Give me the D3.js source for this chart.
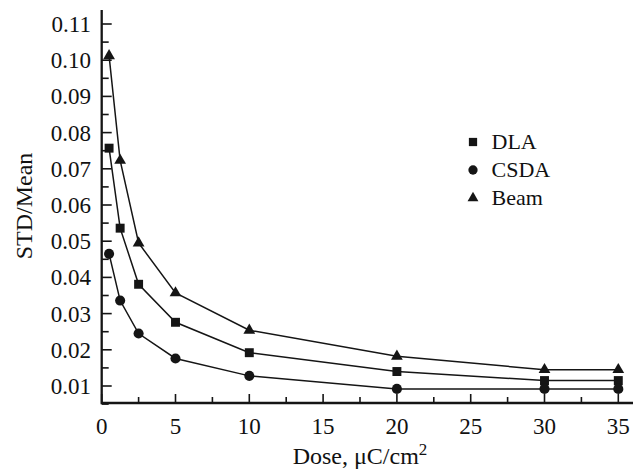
<!DOCTYPE html>
<html>
<head>
<meta charset="utf-8">
<script src="https://cdn.jsdelivr.net/npm/d3@7"></script>
<style>
    html, body { margin: 0; padding: 0; background: #fff; }
    svg { display: block; }
    text { font-family: 'Liberation Serif', 'Times New Roman', serif; fill: #111; }
</style>
</head>
<body>
<div id="chart"></div>
<script>
//
// DATA
//
const doses = [0.5, 1.25, 2.5, 5, 10, 20, 30, 35]
const dla = [0.0757, 0.0536, 0.0381, 0.0276, 0.0192, 0.014, 0.0115, 0.0115]
const csda = [0.0465, 0.0336, 0.0245, 0.0176, 0.0128, 0.0092, 0.0092, 0.0092]
const beam = [0.1012, 0.0723, 0.0495, 0.0357, 0.0254, 0.0182, 0.0145, 0.0145]
const seriesNames = ['DLA', 'CSDA', 'Beam']
const xTicks = [0, 5, 10, 15, 20, 25, 30, 35]
const yTicks = [0.01, 0.02, 0.03, 0.04, 0.05, 0.06, 0.07, 0.08, 0.09, 0.10, 0.11]

const width = 633
const height = 472
const ink = '#151515'

const svg = d3
    .select('#chart')
    .append('svg')
    .attr('width', width)
    .attr('height', height)

// scales, the plot box is 101..633 x 10..403
const x = d3.scaleLinear().domain([0, 35]).range([101.7, 618.3])
const y = d3.scaleLinear().domain([0.01, 0.11]).range([386, 24])
const xEnd = 633
const yTop = 10
const yBottom = 403

// axis lines
svg.append('path')
    .attr('d', `M${x(0)},${yTop}V${yBottom}H${xEnd}`)
    .attr('fill', 'none')
    .attr('stroke', ink)
    .attr('stroke-width', 2.3)

// x ticks (major + minor, pointing inward)
const xMinor = d3.range(2.5, 36, 5)
svg.append('g')
    .selectAll('path')
    .data(xTicks.concat(xMinor))
    .enter()
    .append('path')
    .attr('d', d => `M${x(d)},${yBottom}v${xTicks.includes(d) ? -9 : -6}`)
    .attr('stroke', ink)
    .attr('stroke-width', 1.6)

svg.append('g')
    .selectAll('text')
    .data(xTicks)
    .enter()
    .append('text')
    .attr('x', d => x(d))
    .attr('y', 433.5)
    .attr('text-anchor', 'middle')
    .style('font-size', '23px')
    .text(d => d)

// y ticks
const yMinor = d3.range(0.005, 0.113, 0.01)
svg.append('g')
    .selectAll('path')
    .data(yTicks.map(v => [v, 10]).concat(yMinor.map(v => [v, 7])))
    .enter()
    .append('path')
    .attr('d', d => `M${x(0)},${y(d[0])}h${d[1]}`)
    .attr('stroke', ink)
    .attr('stroke-width', 1.6)

svg.append('g')
    .selectAll('text')
    .data(yTicks)
    .enter()
    .append('text')
    .attr('x', 91)
    .attr('y', d => y(d) + 8)
    .attr('text-anchor', 'end')
    .style('font-size', '23px')
    .text(d => d3.format('.2f')(d))

// axis titles
const xTitle = svg.append('text')
    .attr('x', 360)
    .attr('y', 463.5)
    .attr('text-anchor', 'middle')
    .style('font-size', '24px')
xTitle.append('tspan').text('Dose, μC/cm')
xTitle.append('tspan').attr('dy', -9).style('font-size', '17px').text('2')

svg.append('text')
    .attr('transform', 'translate(32,206) rotate(-90)')
    .attr('text-anchor', 'middle')
    .style('font-size', '24px')
    .text('STD/Mean')

// series
const symbols = [d3.symbolSquare, d3.symbolCircle, d3.symbolTriangle]
const sizes = [80, 80, 60]
const line = d3
    .line()
    .x((d, i) => x(doses[i]))
    .y(d => y(d))

const allSeries = [dla, csda, beam]
allSeries.forEach((vals, k) => {
    svg.append('path')
        .attr('d', line(vals))
        .attr('fill', 'none')
        .attr('stroke', ink)
        .attr('stroke-width', 1.5)
    svg.append('g')
        .selectAll('path')
        .data(vals)
        .enter()
        .append('path')
        .attr('transform', (d, i) => `translate(${x(doses[i])},${y(d)})`)
        .attr('d', d3.symbol().type(symbols[k]).size(sizes[k]))
        .attr('fill', ink)
})

// legend
const legend = svg.append('g').attr('transform', 'translate(473,142)')
seriesNames.forEach((name, k) => {
    legend.append('path')
        .attr('transform', `translate(0,${k * 28})`)
        .attr('d', d3.symbol().type(symbols[k]).size(sizes[k] * 0.85))
        .attr('fill', ink)
    legend.append('text')
        .attr('x', 18.5)
        .attr('y', k * 28 + 7)
        .style('font-size', '22px')
        .text(name)
})
</script>
</body>
</html>
